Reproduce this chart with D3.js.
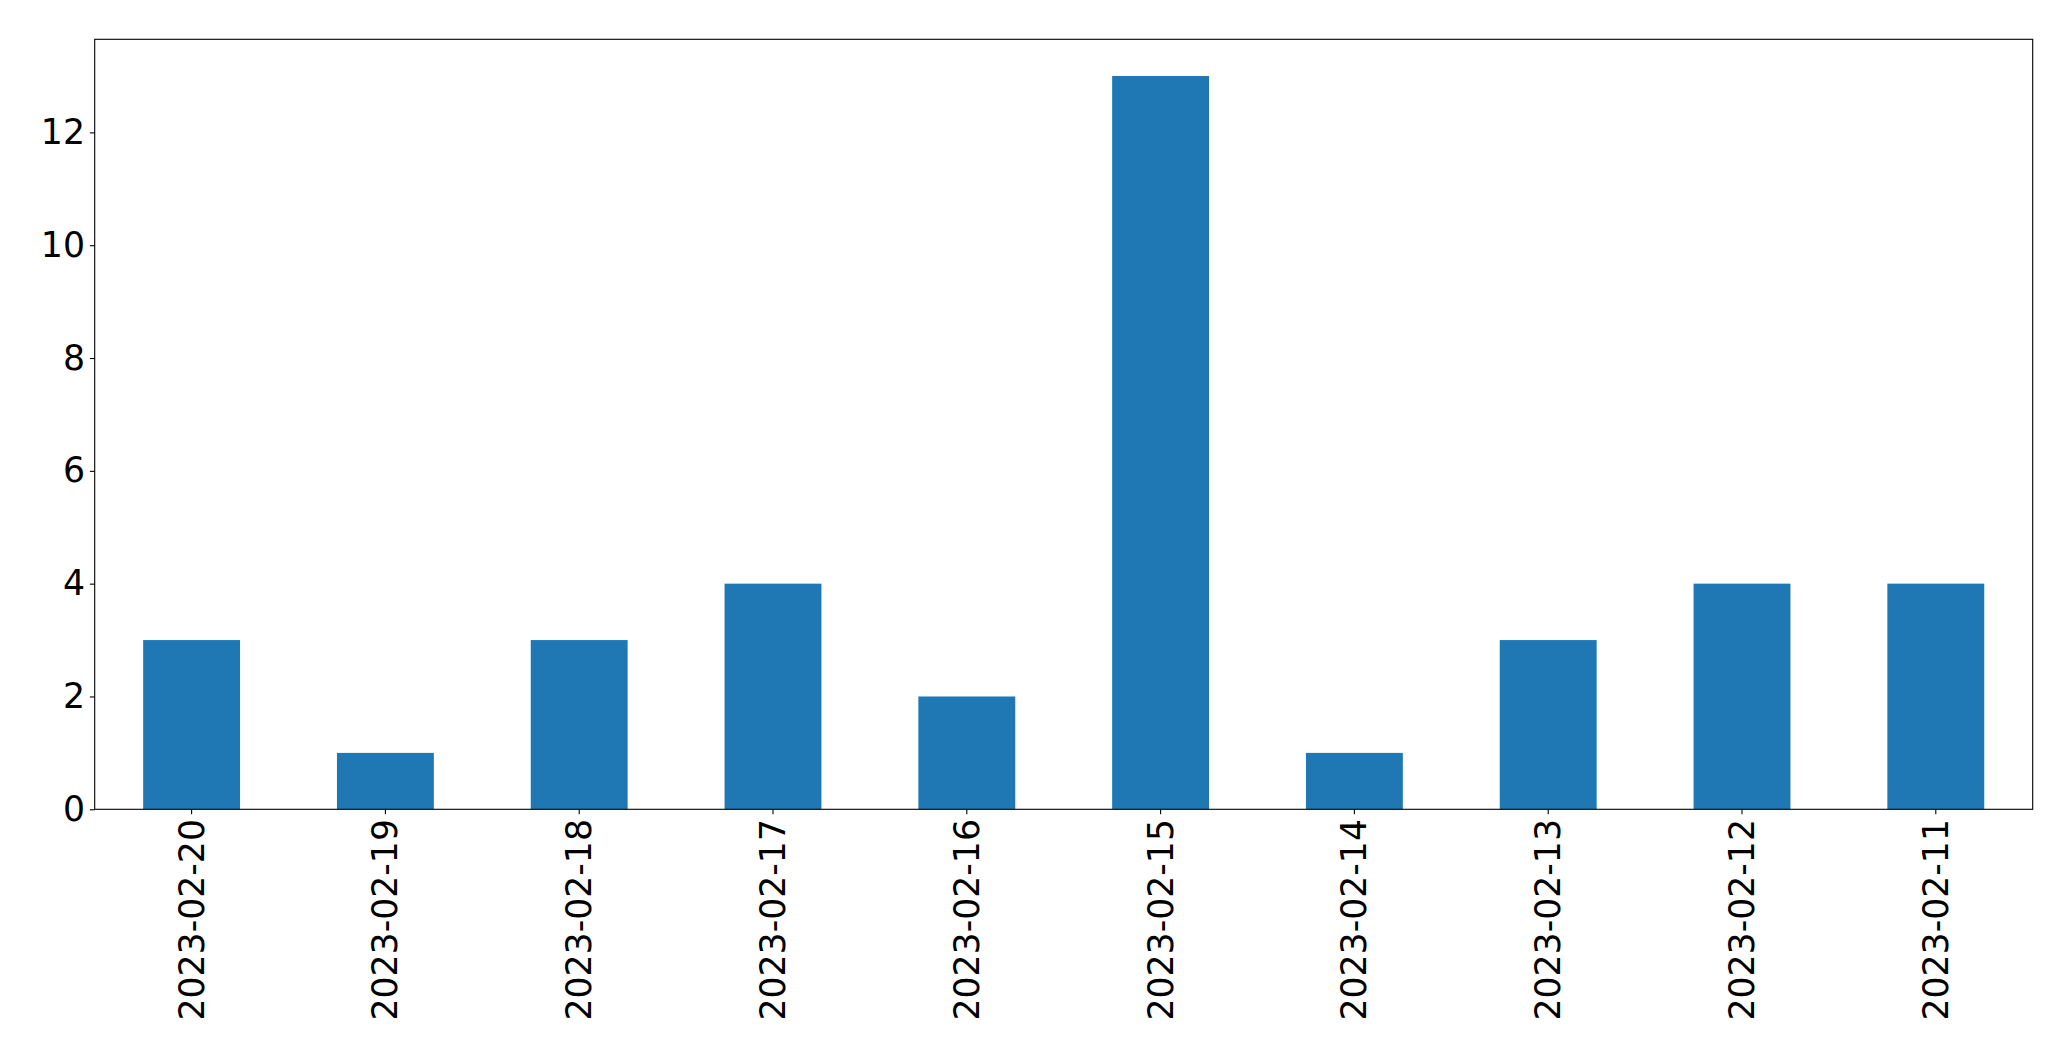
<!DOCTYPE html>
<html>
<head>
<meta charset="utf-8">
<script src="https://cdn.jsdelivr.net/npm/d3@7"></script>
<style>
  html, body { margin: 0; padding: 0; background: #fff; }
  svg { display: block; }
</style>
</head>
<body>
<svg id="chart" width="2071" height="1061"></svg>
<script>
const categories = ["2023-02-20","2023-02-19","2023-02-18","2023-02-17","2023-02-16","2023-02-15","2023-02-14","2023-02-13","2023-02-12","2023-02-11"];
const values = [3, 1, 3, 4, 2, 13, 1, 3, 4, 4];
const yTicks = [0, 2, 4, 6, 8, 10, 12];

const W = 2071, H = 1061;
const margin = {left: 94.7, right: W - 2032.7, top: 39.3, bottom: H - 809.3};
const fontSize = 34.7;
const tickLen = 4.86, tickPad = 4.86;
const barColor = "#1f77b4";

const svg = d3.select("#chart");
const x = d3.scaleBand().domain(categories)
  .range([margin.left, W - margin.right])
  .paddingInner(0.5).paddingOuter(0.25);
const yMax = d3.max(values) * 1.05;
const y = d3.scaleLinear().domain([0, yMax]).range([H - margin.bottom, margin.top]);

svg.append("g").selectAll("rect").data(values).join("rect")
  .attr("x", (d, i) => x(categories[i]))
  .attr("width", x.bandwidth())
  .attr("y", d => y(d))
  .attr("height", d => y(0) - y(d))
  .attr("fill", barColor);

// frame
svg.append("rect")
  .attr("x", margin.left).attr("y", margin.top)
  .attr("width", W - margin.left - margin.right)
  .attr("height", H - margin.top - margin.bottom)
  .attr("fill", "none").attr("stroke", "#000").attr("stroke-width", 1.1);

const yAxis = d3.axisLeft(y).tickValues(yTicks).tickSize(tickLen).tickPadding(tickPad).tickFormat(d3.format("d"));
const gy = svg.append("g").attr("transform", `translate(${margin.left},0)`).call(yAxis);
gy.select(".domain").remove();
gy.selectAll(".tick line").attr("stroke", "#000").attr("stroke-width", 1.1);
gy.selectAll(".tick text").attr("fill", "#000")
  .style("font-family", "DejaVu Sans").style("font-size", fontSize + "px");

const xAxis = d3.axisBottom(x).tickSize(tickLen).tickPadding(tickPad);
const gx = svg.append("g").attr("transform", `translate(0,${H - margin.bottom})`).call(xAxis);
gx.select(".domain").remove();
gx.selectAll(".tick line").attr("stroke", "#000").attr("stroke-width", 1.1);
gx.selectAll(".tick text")
  .attr("fill", "#000")
  .style("font-family", "DejaVu Sans").style("font-size", fontSize + "px")
  .attr("transform", null)
  .attr("x", 0).attr("y", 0).attr("dy", null)
  .attr("text-anchor", "end")
  .attr("dominant-baseline", "central")
  .attr("transform", `translate(0,${tickLen + tickPad}) rotate(-90)`);
</script>
</body>
</html>
